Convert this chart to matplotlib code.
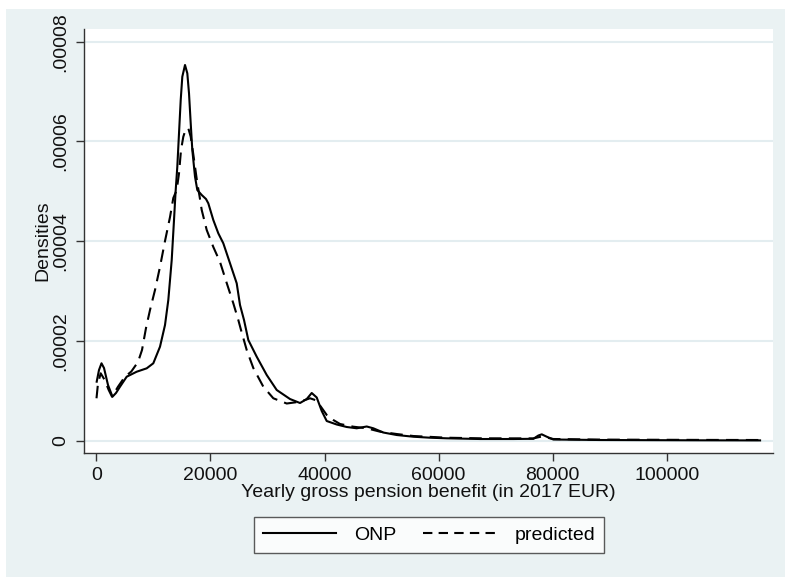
import matplotlib
matplotlib.use("Agg")
import matplotlib.pyplot as plt
from matplotlib.lines import Line2D

plt.rcParams['font.family'] = ['Liberation Sans', 'DejaVu Sans']

# ONP density (x in EUR, y density)
onp_x = [70, 473, 912, 1350, 2051, 2840, 3453, 4155, 5329, 7082, 8835, 9992,
         11167, 12043, 12622, 13218, 13621, 13884, 14199, 14497, 14795, 15076,
         15549, 15952, 16250, 16548, 16829, 17302, 17705, 18477, 19231, 19634,
         20510, 21387, 22263, 23438, 24612, 25190, 25892, 26646, 28118, 29871,
         31624, 33956, 35709, 36883, 37760, 38636, 39513, 40390, 42142, 43895,
         45648, 47401, 48558, 50311, 52660, 55570, 58497, 61425, 67263, 73100,
         76606, 77483, 78079, 78955, 80112, 88300, 105830, 116347]
onp_y = [1.18e-5, 1.414e-5, 1.549e-5, 1.454e-5, 1.113e-5, 8.79e-6, 9.53e-6,
         1.079e-5, 1.280e-5, 1.380e-5, 1.448e-5, 1.549e-5, 1.882e-5, 2.317e-5,
         2.818e-5, 3.621e-5, 4.423e-5, 4.965e-5, 5.492e-5, 6.162e-5, 6.830e-5,
         7.298e-5, 7.533e-5, 7.366e-5, 6.965e-5, 6.363e-5, 5.827e-5, 5.292e-5,
         5.025e-5, 4.925e-5, 4.844e-5, 4.758e-5, 4.423e-5, 4.156e-5, 3.956e-5,
         3.555e-5, 3.153e-5, 2.718e-5, 2.417e-5, 2.016e-5, 1.681e-5, 1.314e-5,
         1.013e-5, 8.32e-6, 7.52e-6, 8.32e-6, 9.53e-6, 8.63e-6, 5.92e-6,
         3.91e-6, 3.21e-6, 2.71e-6, 2.45e-6, 2.81e-6, 2.45e-6, 1.60e-6,
         1.10e-6, 7.6e-7, 5.6e-7, 4.4e-7, 3.0e-7, 3.0e-7, 3.4e-7, 1.0e-6,
         1.24e-6, 7.6e-7, 2.0e-7, 1.0e-7, 4e-8, 2e-8]

# predicted density
pred_x = [35, 298, 771, 1473, 2174, 2752, 3804, 4979, 6136, 7310, 8011, 8712,
          9414, 10290, 11167, 12043, 12920, 13498, 14094, 14497, 14848, 15251,
          15672, 16128, 16548, 16899, 17302, 17705, 18091, 18477, 19353, 20510,
          21685, 22859, 24016, 24893, 25366, 26365, 27522, 29275, 31028, 33377,
          35709, 37462, 38636, 39215, 40390, 41546, 42721, 45052, 47401, 49733,
          52660, 55570, 61425, 67263, 76606, 78079, 80112, 88300, 105830, 116347]
pred_y = [8.47e-6, 1.147e-5, 1.348e-5, 1.214e-5, 1.013e-5, 8.79e-6, 1.079e-5,
          1.274e-5, 1.384e-5, 1.575e-5, 1.815e-5, 2.257e-5, 2.618e-5, 3.019e-5,
          3.486e-5, 4.002e-5, 4.483e-5, 4.865e-5, 5.025e-5, 5.360e-5, 5.827e-5,
          6.094e-5, 6.243e-5, 6.263e-5, 6.094e-5, 5.827e-5, 5.492e-5, 5.159e-5,
          4.905e-5, 4.624e-5, 4.223e-5, 3.882e-5, 3.581e-5, 3.159e-5, 2.752e-5,
          2.417e-5, 2.217e-5, 1.815e-5, 1.454e-5, 1.079e-5, 8.47e-6, 7.42e-6,
          7.78e-6, 8.47e-6, 8.02e-6, 7.02e-6, 5.12e-6, 4.11e-6, 3.31e-6,
          2.77e-6, 2.45e-6, 1.77e-6, 1.30e-6, 9.0e-7, 5.6e-7, 4.4e-7, 4.2e-7,
          8.0e-7, 3.0e-7, 1.8e-7, 1.2e-7, 1.0e-7]

x_ticks = [0, 20000, 40000, 60000, 80000, 100000]
x_tick_labels = ["0", "20000", "40000", "60000", "80000", "100000"]
y_ticks = [0, 0.00002, 0.00004, 0.00006, 0.00008]
y_tick_labels = ["0", ".00002", ".00004", ".00006", ".00008"]
x_title = "Yearly gross pension benefit (in 2017 EUR)"
y_title = "Densities"
series_names = ["ONP", "predicted"]

FS = 14
W, H = 785, 577
fig = plt.figure(figsize=(W / 100, H / 100), dpi=100, facecolor="white")
bg = "#EAF2F3"
bg_ax = fig.add_axes([6 / W, 0, 1 - 6 / W, 1 - 9 / H], zorder=-10)
bg_ax.set_facecolor(bg)
bg_ax.set_xticks([])
bg_ax.set_yticks([])
for s in bg_ax.spines.values():
    s.set_visible(False)

left, right, top, bottom = 83.5, 773, 29.3, 452.7
ax = fig.add_axes([left / W, (H - bottom) / H, (right - left) / W, (bottom - top) / H])
ax.set_facecolor("white")

ax.set_xlim(-2244, 118615)
ax.set_ylim(-2.447e-6, 8.249e-5)

for yt in y_ticks:
    ax.axhline(yt, color="#E3EDF0", lw=1.5, zorder=1)

ax.plot(onp_x, onp_y, color="black", lw=1.5, solid_joinstyle="round", zorder=3)
ax.plot(pred_x, pred_y, color="black", lw=1.5, dashes=(6, 3.5), zorder=3)

for s in ["top", "right"]:
    ax.spines[s].set_visible(False)
for s in ["left", "bottom"]:
    ax.spines[s].set_color("#333333")
    ax.spines[s].set_linewidth(1.0)

ax.set_xticks(x_ticks)
ax.set_xticklabels(x_tick_labels, fontsize=FS)
ax.set_yticks(y_ticks)
ax.set_yticklabels(y_tick_labels, fontsize=FS, rotation=90, va="center")
ax.tick_params(axis="both", direction="out", length=6, width=1.0,
               color="#333333", pad=4, labelcolor="#111111")

ax.set_xlabel(x_title, fontsize=FS, labelpad=0, color="#111111")
ax.set_ylabel(y_title, fontsize=FS, labelpad=1, color="#111111")

handles = [Line2D([], [], color="black", lw=1.5),
           Line2D([], [], color="black", lw=1.5, dashes=(4.5, 3))]
leg = fig.legend(handles, series_names, loc="center",
                 bbox_to_anchor=(429 / W, 1 - 535 / H), ncol=2, fontsize=FS,
                 frameon=True, fancybox=False, handlelength=3.8,
                 columnspacing=1.4, handletextpad=0.9, borderpad=0.45)
leg.get_frame().set_edgecolor("#333333")
leg.get_frame().set_linewidth(1.0)
leg.get_frame().set_facecolor("white")

fig.savefig("out.png", dpi=100, facecolor=fig.get_facecolor())
